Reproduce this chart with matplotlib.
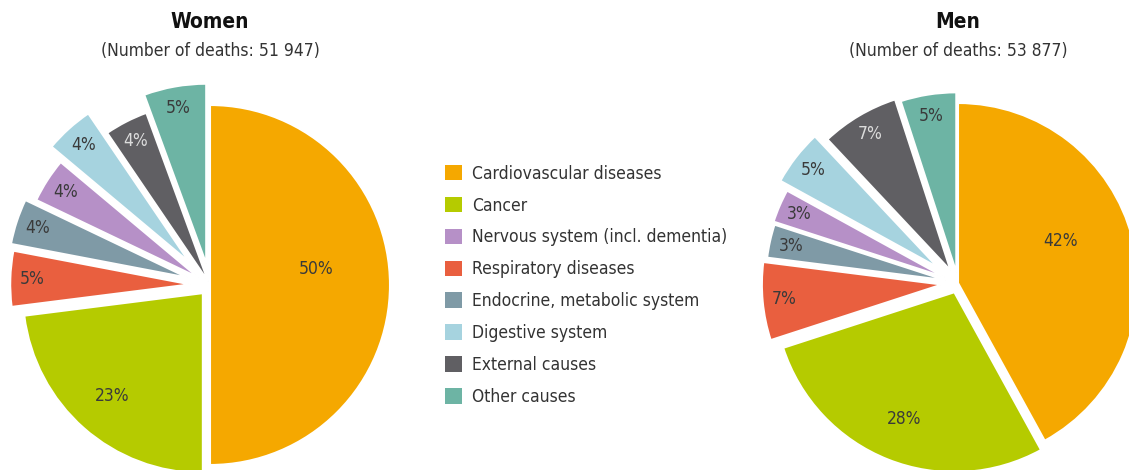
import numpy as np
import matplotlib.pyplot as plt
from matplotlib.patches import Patch

# slices in drawing order (clockwise from the top)
causes = ["Cardiovascular diseases", "Cancer", "Respiratory diseases",
          "Endocrine, metabolic system", "Nervous system (incl. dementia)",
          "Digestive system", "External causes", "Other causes"]
# shares; the printed labels are rounded
women_share = [50, 23, 5.0, 4.1, 4.0, 4.4, 3.9, 5.6]
women_labels = ["50%", "23%", "5%", "4%", "4%", "4%", "4%", "5%"]
men_share = [42, 28, 7, 3, 3, 5, 7, 5]
men_labels = ["42%", "28%", "7%", "3%", "3%", "5%", "7%", "5%"]
women_deaths = "51 947"
men_deaths = "53 877"

# legend order as printed on the chart
legend_order = ["Cardiovascular diseases", "Cancer", "Nervous system (incl. dementia)",
                "Respiratory diseases", "Endocrine, metabolic system",
                "Digestive system", "External causes", "Other causes"]

colors = {
    "Cardiovascular diseases": "#F5A800",
    "Cancer": "#B5CB00",
    "Nervous system (incl. dementia)": "#B690C7",
    "Respiratory diseases": "#E95F3F",
    "Endocrine, metabolic system": "#7F9AA6",
    "Digestive system": "#A6D3DF",
    "External causes": "#605F63",
    "Other causes": "#6DB4A4",
}

plt.rcParams["font.family"] = ["DejaVu Sans"]
plt.rcParams["font.stretch"] = "condensed"

W, H = 1129, 470
R = 180
fig = plt.figure(figsize=(W / 100, H / 100), dpi=100)
ax = fig.add_axes([0, 0, 1, 1])


def draw_pie(values, labels, center, explode, title, deaths):
    cols = [colors[c] for c in causes]
    wedges, _ = ax.pie(values, colors=cols, startangle=90, counterclock=False,
                       center=center, radius=R, explode=[e * R for e in explode],
                       frame=True, wedgeprops=dict(edgecolor="white", linewidth=1.5))
    for i, (w, lab) in enumerate(zip(wedges, labels)):
        ang = np.deg2rad((w.theta1 + w.theta2) / 2)
        d = [0.59, 0.76][i] if i < 2 else 0.88
        x = w.center[0] + d * w.r * np.cos(ang)
        y = w.center[1] + d * w.r * np.sin(ang)
        if i == 0:
            y += 16  # big slice label sits a bit above the middle
        tc = "#dcdcdc" if causes[i] == "External causes" else "#3a3a3a"
        ax.text(x, y, lab, ha="center", va="center", fontsize=12.5, color=tc)
    ax.text(center[0], H - 22, title, ha="center", va="center",
            fontsize=15, fontweight="bold", color="#111111")
    ax.text(center[0], H - 51, f"(Number of deaths: {deaths})", ha="center",
            va="center", fontsize=12.5, color="#333333")


draw_pie(women_share, women_labels, (210, H - 285),
         [0, 0.06, 0.11, 0.13, 0.075, 0.17, 0.02, 0.12], "Women", women_deaths)
draw_pie(men_share, men_labels, (958, H - 283),
         [0, 0.055, 0.09, 0.07, 0.08, 0.14, 0.08, 0.06], "Men", men_deaths)

handles = [Patch(facecolor=colors[c], edgecolor="none") for c in legend_order]
ax.legend(handles, legend_order, loc="upper left", bbox_to_anchor=(429 / W, 1 - 149 / H),
          frameon=False, fontsize=12.5, handlelength=1.0, handleheight=1.0,
          handletextpad=0.6, labelspacing=0.8, labelcolor="#333333")

ax.set_xlim(0, W)
ax.set_ylim(0, H)
ax.set_aspect("equal")
ax.axis("off")

fig.savefig("out.png", dpi=100)
